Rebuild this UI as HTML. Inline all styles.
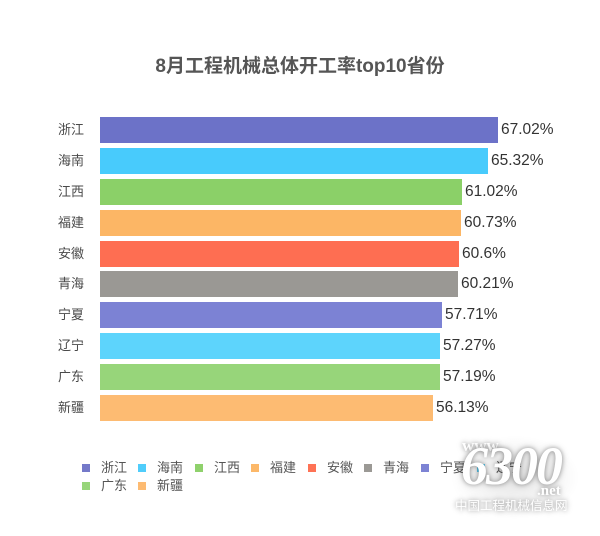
<!DOCTYPE html>
<html>
<head>
<meta charset="utf-8">
<style>
html,body{margin:0;padding:0;background:#fff;}
#c{position:relative;width:600px;height:536px;overflow:hidden;background:#fff;font-family:"Liberation Sans","Noto Sans CJK SC",sans-serif;}
.t{position:absolute;left:0;width:600px;top:54px;text-align:center;font-size:19px;font-weight:bold;color:#555;line-height:26px;}
.bar{position:absolute;left:100px;height:26px;}
.cat{position:absolute;left:20px;width:64px;text-align:right;font-size:13px;color:#4a4a4a;line-height:26px;}
.val{position:absolute;font-size:15.5px;color:#333;line-height:26px;}
.lg{position:absolute;width:8px;height:8px;}
.lt{position:absolute;font-size:13px;color:#555;line-height:16px;}
.wm{position:absolute;color:#fff;text-shadow:0 0 4px rgba(0,0,0,0.35),0 0 8px rgba(0,0,0,0.2);}
</style>
</head>
<body>
<div id="c">
<div class="t">8月工程机械总体开工率top10省份</div>

<div class="cat" style="top:117px">浙江</div>
<div class="cat" style="top:148px">海南</div>
<div class="cat" style="top:179px">江西</div>
<div class="cat" style="top:210px">福建</div>
<div class="cat" style="top:241px">安徽</div>
<div class="cat" style="top:271px">青海</div>
<div class="cat" style="top:302px">宁夏</div>
<div class="cat" style="top:333px">辽宁</div>
<div class="cat" style="top:364px">广东</div>
<div class="cat" style="top:395px">新疆</div>

<div class="bar" style="top:117px;width:398px;background:#6c72c8"></div>
<div class="bar" style="top:148px;width:388px;background:#48cbfc"></div>
<div class="bar" style="top:179px;width:362px;background:#8bd068"></div>
<div class="bar" style="top:210px;width:361px;background:#fcb665"></div>
<div class="bar" style="top:241px;width:359px;background:#fe6e52"></div>
<div class="bar" style="top:271px;width:358px;background:#9a9894"></div>
<div class="bar" style="top:302px;width:342px;background:#7c82d4"></div>
<div class="bar" style="top:333px;width:340px;background:#5dd4fc"></div>
<div class="bar" style="top:364px;width:340px;background:#97d57a"></div>
<div class="bar" style="top:395px;width:333px;background:#fdbb72"></div>

<div class="val" style="top:117px;left:501px">67.02%</div>
<div class="val" style="top:148px;left:491px">65.32%</div>
<div class="val" style="top:179px;left:465px">61.02%</div>
<div class="val" style="top:210px;left:464px">60.73%</div>
<div class="val" style="top:241px;left:462px">60.6%</div>
<div class="val" style="top:271px;left:461px">60.21%</div>
<div class="val" style="top:302px;left:445px">57.71%</div>
<div class="val" style="top:333px;left:443px">57.27%</div>
<div class="val" style="top:364px;left:443px">57.19%</div>
<div class="val" style="top:395px;left:436px">56.13%</div>

<!-- legend row 1 -->
<div class="lg" style="left:82px;top:464px;background:#7479c9"></div><div class="lt" style="left:101px;top:460px">浙江</div>
<div class="lg" style="left:138px;top:464px;background:#50cdfb"></div><div class="lt" style="left:157px;top:460px">海南</div>
<div class="lg" style="left:195px;top:464px;background:#8fd16c"></div><div class="lt" style="left:214px;top:460px">江西</div>
<div class="lg" style="left:251px;top:464px;background:#fcb869"></div><div class="lt" style="left:270px;top:460px">福建</div>
<div class="lg" style="left:308px;top:464px;background:#fe7255"></div><div class="lt" style="left:327px;top:460px">安徽</div>
<div class="lg" style="left:364px;top:464px;background:#9b9995"></div><div class="lt" style="left:383px;top:460px">青海</div>
<div class="lg" style="left:421px;top:464px;background:#7d83d4"></div><div class="lt" style="left:440px;top:460px">宁夏</div>
<div class="lg" style="left:477px;top:464px;background:#5dd4fc"></div><div class="lt" style="left:496px;top:460px">辽宁</div>
<!-- legend row 2 -->
<div class="lg" style="left:82px;top:482px;background:#97d57a"></div><div class="lt" style="left:101px;top:478px">广东</div>
<div class="lg" style="left:138px;top:482px;background:#fdbb72"></div><div class="lt" style="left:157px;top:478px">新疆</div>

<!-- watermark -->
<div style="position:absolute;left:450px;top:435px;width:130px;height:85px;border-radius:40px;background:radial-gradient(ellipse at center,rgba(0,0,0,0.10),rgba(0,0,0,0) 70%);"></div>
<div class="wm" style="left:462px;top:436px;font-family:'Liberation Serif',serif;font-size:17px;font-weight:bold;">www.</div>
<div class="wm" style="left:461px;top:438px;font-family:'Liberation Serif',serif;font-size:54px;font-style:italic;font-weight:bold;line-height:56px;letter-spacing:-2px;">6300</div>
<div class="wm" style="left:537px;top:483px;font-family:'Liberation Serif',serif;font-size:15px;font-weight:bold;">.net</div>
<div class="wm" style="left:455px;top:499px;font-size:12.5px;line-height:14px;">中国工程机械信息网</div>
</div>
</body>
</html>
